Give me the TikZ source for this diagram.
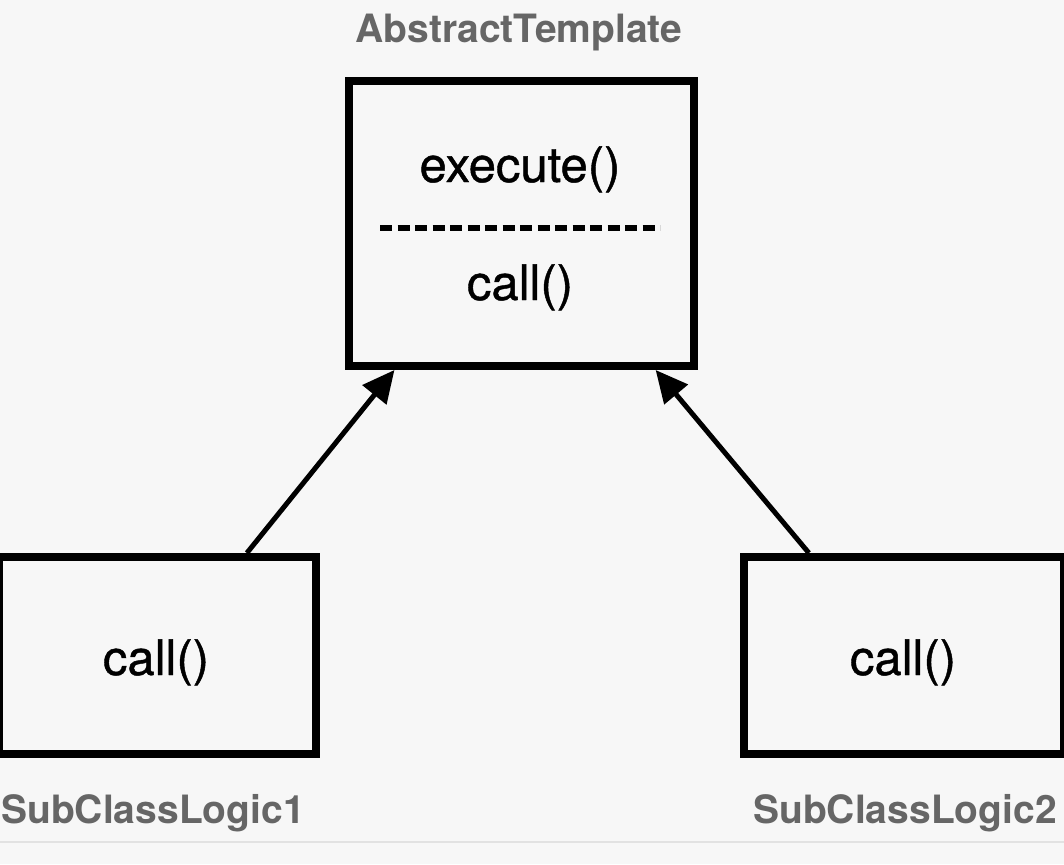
\documentclass[tikz,border=0pt]{standalone}
\usepackage{fontspec}
\setmainfont{TeX Gyre Heros}
\newfontfamily\boxfont[FakeBold=0.9]{TeX Gyre Heros}
\usetikzlibrary{arrows.meta,calc}
\definecolor{bg}{HTML}{F7F7F7}
\definecolor{lbl}{HTML}{666666}
\definecolor{rule}{HTML}{E2E2E2}
\begin{document}
\begin{tikzpicture}[x=1pt,y=-1pt,
  classbox/.style={draw=black,line width=8pt,fill=bg,rectangle,inner sep=0pt},
  boxtext/.style={font=\boxfont\fontsize{49}{58}\selectfont,text=black,inner sep=0pt,anchor=base},
  classlabel/.style={font=\fontsize{39}{46}\selectfont\bfseries,text=lbl,inner sep=0pt,anchor=base},
  inherit/.style={line width=5pt,-{Triangle[length=32pt,width=30pt]}}]
\fill[bg] (0,0) rectangle (1064,864);
\useasboundingbox (0,0) rectangle (1064,864);
\draw[rule,line width=2pt] (0,842) -- (1064,842);
% boxes
\node[classbox,minimum width=345pt,minimum height=285pt] (top) at (521.5,223.5) {};
\node[classbox,minimum width=317pt,minimum height=197pt] (sub1) at (157.5,655.5) {};
\node[classbox,minimum width=320pt,minimum height=197pt] (sub2) at (904,655.5) {};
% box contents
\node[boxtext] (exec) at (520,182) {execute()};
\draw[line width=5.5pt,dash pattern=on 12pt off 5.5pt] (380,228) -- (660,228);
\node[boxtext] (tcall) at (520,300) {call()};
\node[boxtext] (c1) at (156,675) {call()};
\node[boxtext] (c2) at (903,675) {call()};
% labels
\node[classlabel] (ltop) at (519,43) {AbstractTemplate};
\node[classlabel] (lsub1) at (153,823) {SubClassLogic1};
\node[classlabel] (lsub2) at (905,823) {SubClassLogic2};
% arrows
\coordinate (s1) at ($(sub1.north west)!0.775!(sub1.north east)$);
\coordinate (t1) at ($(top.south west)!0.14!(top.south east)$);
\coordinate (s2) at ($(sub2.north west)!0.21!(sub2.north east)$);
\coordinate (t2) at ($(top.south west)!0.88!(top.south east)$);
\draw[inherit] (s1) -- (t1);
\draw[inherit] (s2) -- (t2);
\end{tikzpicture}
\end{document}
